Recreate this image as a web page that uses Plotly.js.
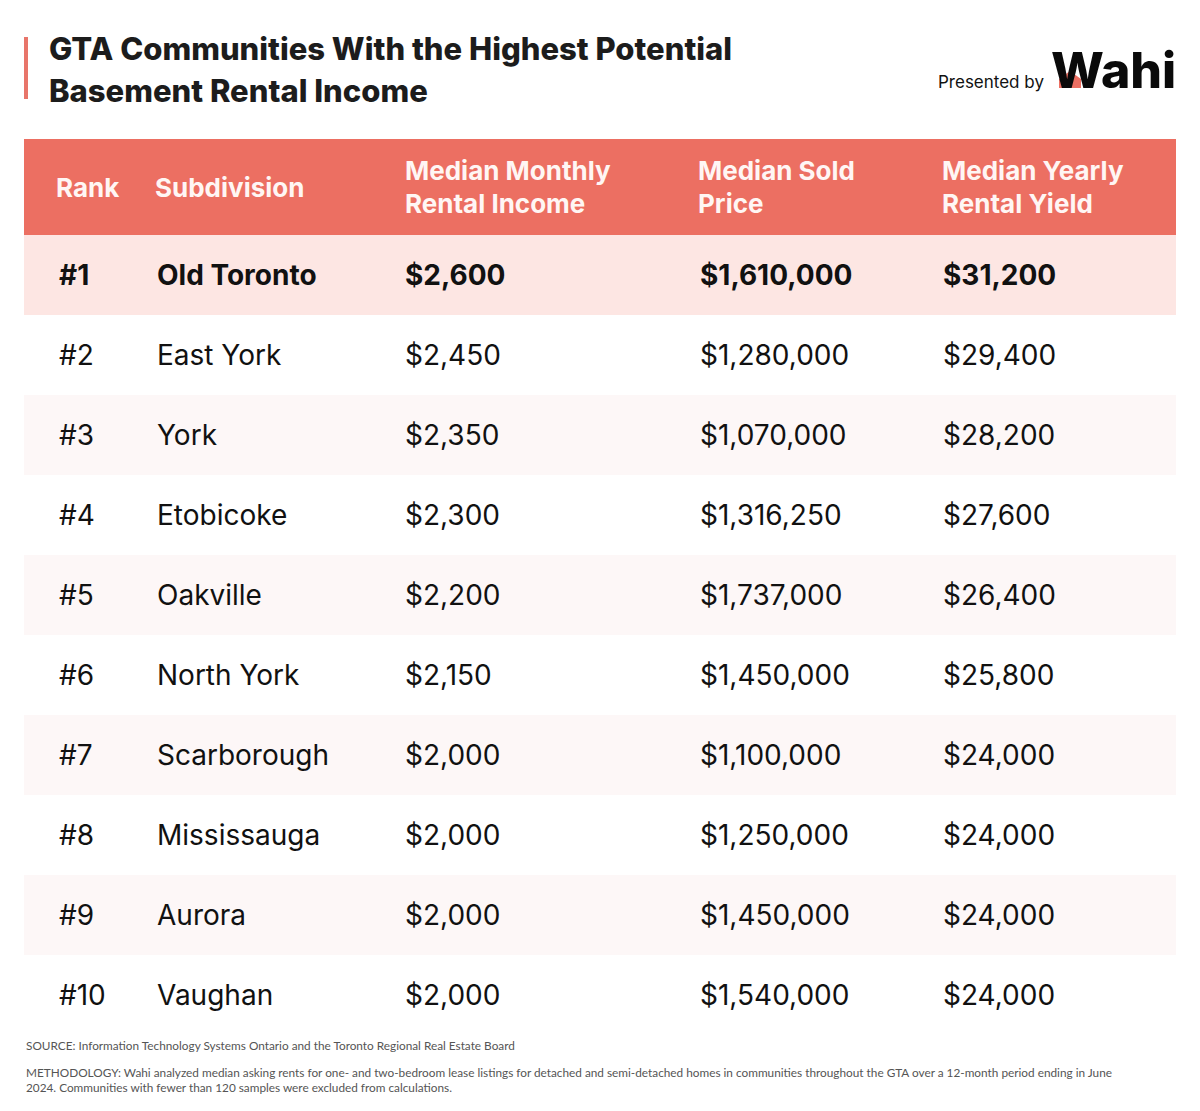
<!DOCTYPE html>
<html>
<head>
<meta charset="utf-8">
<script src="https://cdn.plot.ly/plotly-3.0.1.min.js"></script>
<style>
  html, body { margin: 0; padding: 0; background: #ffffff; }
  #chart { width: 1200px; height: 1111px; }
</style>
</head>
<body>
<div id="chart"></div>
<script>
// table data
const headers = ["Rank", "Subdivision", "Median Monthly<br>Rental Income", "Median Sold<br>Price", "Median Yearly<br>Rental Yield"];
const ranks = ["#1", "#2", "#3", "#4", "#5", "#6", "#7", "#8", "#9", "#10"];
const subdivisions = ["Old Toronto", "East York", "York", "Etobicoke", "Oakville", "North York", "Scarborough", "Mississauga", "Aurora", "Vaughan"];
const monthlyRent = [2600, 2450, 2350, 2300, 2200, 2150, 2000, 2000, 2000, 2000];
const soldPrice = [1610000, 1280000, 1070000, 1316250, 1737000, 1450000, 1100000, 1250000, 1450000, 1540000];
const yearlyYield = [31200, 29400, 28200, 27600, 26400, 25800, 24000, 24000, 24000, 24000];

const W = 1200, H = 1111;
const tableLeft = 24, tableRight = 1176, tableTop = 139, tableBottom = 1035;
const headerX = [56, 155, 405, 698, 942];
const cellX = [59, 157, 405, 700, 943];

const money = v => "$" + v.toLocaleString("en-US");
const columns = [ranks, subdivisions, monthlyRent.map(money), soldPrice.map(money), yearlyYield.map(money)];

const rowIdx = ranks.map((_, i) => i);
const headerY = -1.1;
const yRange = [9.5, -1.7];
const textNudge = 3 / 80; // text sits ~3px lower than row centre

// row backgrounds as horizontal bars
const rowColors = rowIdx.map(i => i === 0 ? "#fde6e3" : (i % 2 === 0 ? "#fdf7f7" : "#ffffff"));
const bgTrace = {
  type: "bar",
  orientation: "h",
  y: [headerY].concat(rowIdx),
  x: [headerY].concat(rowIdx).map(() => tableRight - tableLeft),
  base: tableLeft,
  width: [1.2].concat(rowIdx.map(() => 1)),
  marker: { color: ["#ec6f62"].concat(rowColors), line: { width: 0 } },
  hoverinfo: "skip",
  showlegend: false
};

const traces = [bgTrace];

// header text
headers.forEach((h, c) => {
  traces.push({
    type: "scatter",
    mode: "text",
    x: [headerX[c]],
    y: [headerY],
    yaxis: "y2",
    text: [h],
    textposition: "middle right",
    textfont: { family: "Inter, sans-serif", size: 26, weight: 700, color: "#fff6f4" },
    hoverinfo: "skip",
    showlegend: false
  });
});

// body text
columns.forEach((col, c) => {
  traces.push({
    type: "scatter",
    mode: "text",
    x: rowIdx.map(() => cellX[c]),
    y: rowIdx,
    yaxis: "y2",
    text: col.map((t, i) => i === 0 ? "<b>" + t + "</b>" : t),
    textposition: "middle right",
    textfont: { family: "Inter, sans-serif", size: 28, color: "#111111" },
    hoverinfo: "skip",
    showlegend: false
  });
});

const py = p => 1 - p / H;

const layout = {
  width: W,
  height: H,
  margin: { l: 0, r: 0, t: 0, b: 0 },
  paper_bgcolor: "#ffffff",
  plot_bgcolor: "rgba(0,0,0,0)",
  bargap: 0,
  xaxis: {
    domain: [tableLeft / W, tableRight / W],
    range: [tableLeft, tableRight],
    visible: false,
    fixedrange: true
  },
  yaxis: {
    domain: [py(tableBottom), py(tableTop)],
    range: yRange,
    visible: false,
    fixedrange: true
  },
  yaxis2: {
    overlaying: "y",
    range: yRange.map(v => v - textNudge),
    visible: false,
    fixedrange: true
  },
  shapes: [
    { type: "rect", xref: "paper", yref: "paper", x0: 24 / W, x1: 28 / W, y0: py(99), y1: py(37),
      fillcolor: "#e8756a", line: { width: 0 } },
    // house mark inside the logo
    { type: "path", xref: "paper", yref: "paper",
      path: `M ${1059 / W} ${py(88)} L ${1059 / W} ${py(79)} L ${1070 / W} ${py(71)} L ${1081 / W} ${py(79)} L ${1081 / W} ${py(88)} Z`,
      fillcolor: "#ec6f62", line: { width: 0 } }
  ],
  annotations: [
    { text: "GTA Communities With the Highest Potential", x: 47 / W, y: py(48), xref: "paper", yref: "paper",
      xanchor: "left", yanchor: "middle", showarrow: false,
      font: { family: "Inter, sans-serif", size: 31, weight: 800, color: "#1c1c1c" } },
    { text: "Basement Rental Income", x: 47 / W, y: py(90), xref: "paper", yref: "paper",
      xanchor: "left", yanchor: "middle", showarrow: false,
      font: { family: "Inter, sans-serif", size: 31, weight: 800, color: "#1c1c1c" } },
    { text: "Presented by", x: 1046 / W, y: py(82), xref: "paper", yref: "paper",
      xanchor: "right", yanchor: "middle", showarrow: false,
      font: { family: "Inter, sans-serif", size: 17, color: "#111111" } },
    { text: "Wahi", x: 1178 / W, y: py(70), xref: "paper", yref: "paper",
      xanchor: "right", yanchor: "middle", showarrow: false,
      font: { family: "Inter, sans-serif", size: 50, weight: 800, color: "#0a0a0a" } },
    { text: "SOURCE: Information Technology Systems Ontario and the Toronto Regional Real Estate Board",
      x: 24 / W, y: py(1045), xref: "paper", yref: "paper", xanchor: "left", yanchor: "middle", showarrow: false,
      font: { family: "Lato, sans-serif", size: 11.8, color: "#555555" } },
    { text: "METHODOLOGY: Wahi analyzed median asking rents for one- and two-bedroom lease listings for detached and semi-detached homes in communities throughout the GTA over a 12-month period ending in June<br>2024. Communities with fewer than 120 samples were excluded from calculations.",
      x: 24 / W, y: py(1080), xref: "paper", yref: "paper", xanchor: "left", yanchor: "middle", align: "left", showarrow: false,
      font: { family: "Lato, sans-serif", size: 11.8, color: "#555555" } }
  ]
};

Plotly.newPlot("chart", traces, layout, { displayModeBar: false, staticPlot: true });
</script>
</body>
</html>
